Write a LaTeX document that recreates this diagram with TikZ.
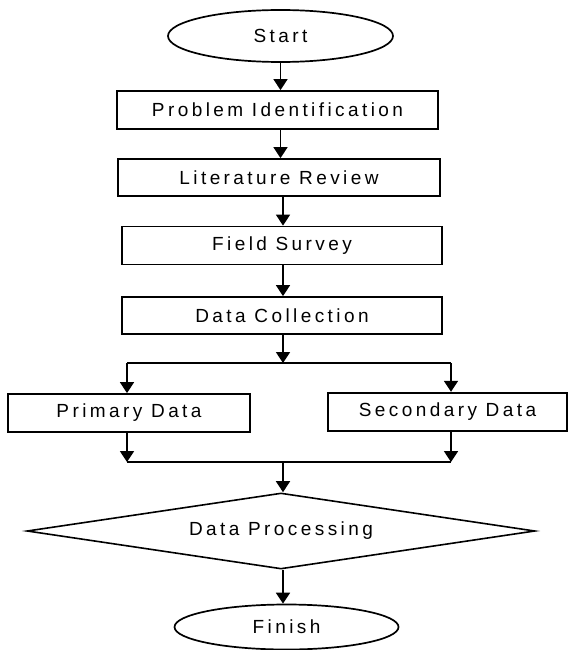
\documentclass[tikz,border=0pt]{standalone}
\usepackage{fontspec}
\setmainfont{Liberation Sans}[LetterSpace=18]
\usetikzlibrary{shapes.geometric,arrows.meta}

\begin{document}
\begin{tikzpicture}[x=1pt,y=-1pt,
  every node/.style={font=\fontsize{19}{22}\selectfont, text=black, inner sep=0pt},
  stepbox/.style={draw, line width=1.8pt, rectangle, minimum height=38pt},
  terminal/.style={draw, line width=1.7pt, ellipse},
  decision/.style={draw, line width=1.6pt, diamond, shape aspect=6.7},
  flow/.style={line width=1.8pt, -{Triangle[width=14pt,length=11pt]}},
  joint/.style={line width=1.8pt}]
\useasboundingbox (0,0) rectangle (569,650);

% start and the main chain of steps
\node[terminal, minimum width=225pt, minimum height=52pt] (start) at (280.5,36) {Start};
\node[stepbox, minimum width=321pt] (pi) at (277.5,110) {Problem Identification};
\node[stepbox, minimum width=322pt, minimum height=37pt] (lr) at (279,177.5) {Literature Review};
\node[stepbox, minimum width=320pt] (fs) at (282,245.5) {Field Survey};
\node[stepbox, minimum width=320pt, minimum height=37pt] (dc) at (282,315.5) {Data Collection};

% the two data branches
\node[stepbox, minimum width=242pt] (prim) at (129,413) {Primary Data};
\node[stepbox, minimum width=239pt] (sec) at (447.5,411.7) {Secondary Data};

% processing and end
\node[decision, minimum width=508pt, minimum height=76pt] (proc) at (281,531) {Data Processing};
\node[terminal, minimum width=224pt, minimum height=45pt] (finish) at (286.5,627) {Finish};

% junction points of the split and the merge
\coordinate (split) at (283,363);
\coordinate (bl) at (127,363);
\coordinate (br) at (451,363);
\coordinate (ml) at (127,462);
\coordinate (mr) at (451,462);
\coordinate (merge) at (283,462);

% connectors down the main chain
\draw[flow] (start.south) -- (start.south |- pi.north);
\draw[flow] (pi.south -| start.south) -- (lr.north -| start.south);
\draw[flow] (lr.south -| split) -- (fs.north -| split);
\draw[flow] (fs.south -| split) -- (dc.north -| split);
\draw[flow] (dc.south -| split) -- (split);

% split into the two branches
\draw[joint] (bl) -- (br);
\draw[flow] (bl) -- (bl |- prim.north);
\draw[flow] (br) -- (br |- sec.north);

% merge back together
\draw[flow] (prim.south -| ml) -- (ml);
\draw[flow] (sec.south -| mr) -- (mr);
\draw[joint] (ml) -- (mr);
\draw[flow] (merge) -- (merge |- proc.north);
\draw[flow] (proc.south -| merge) -- (finish.north -| merge);
\end{tikzpicture}
\end{document}
